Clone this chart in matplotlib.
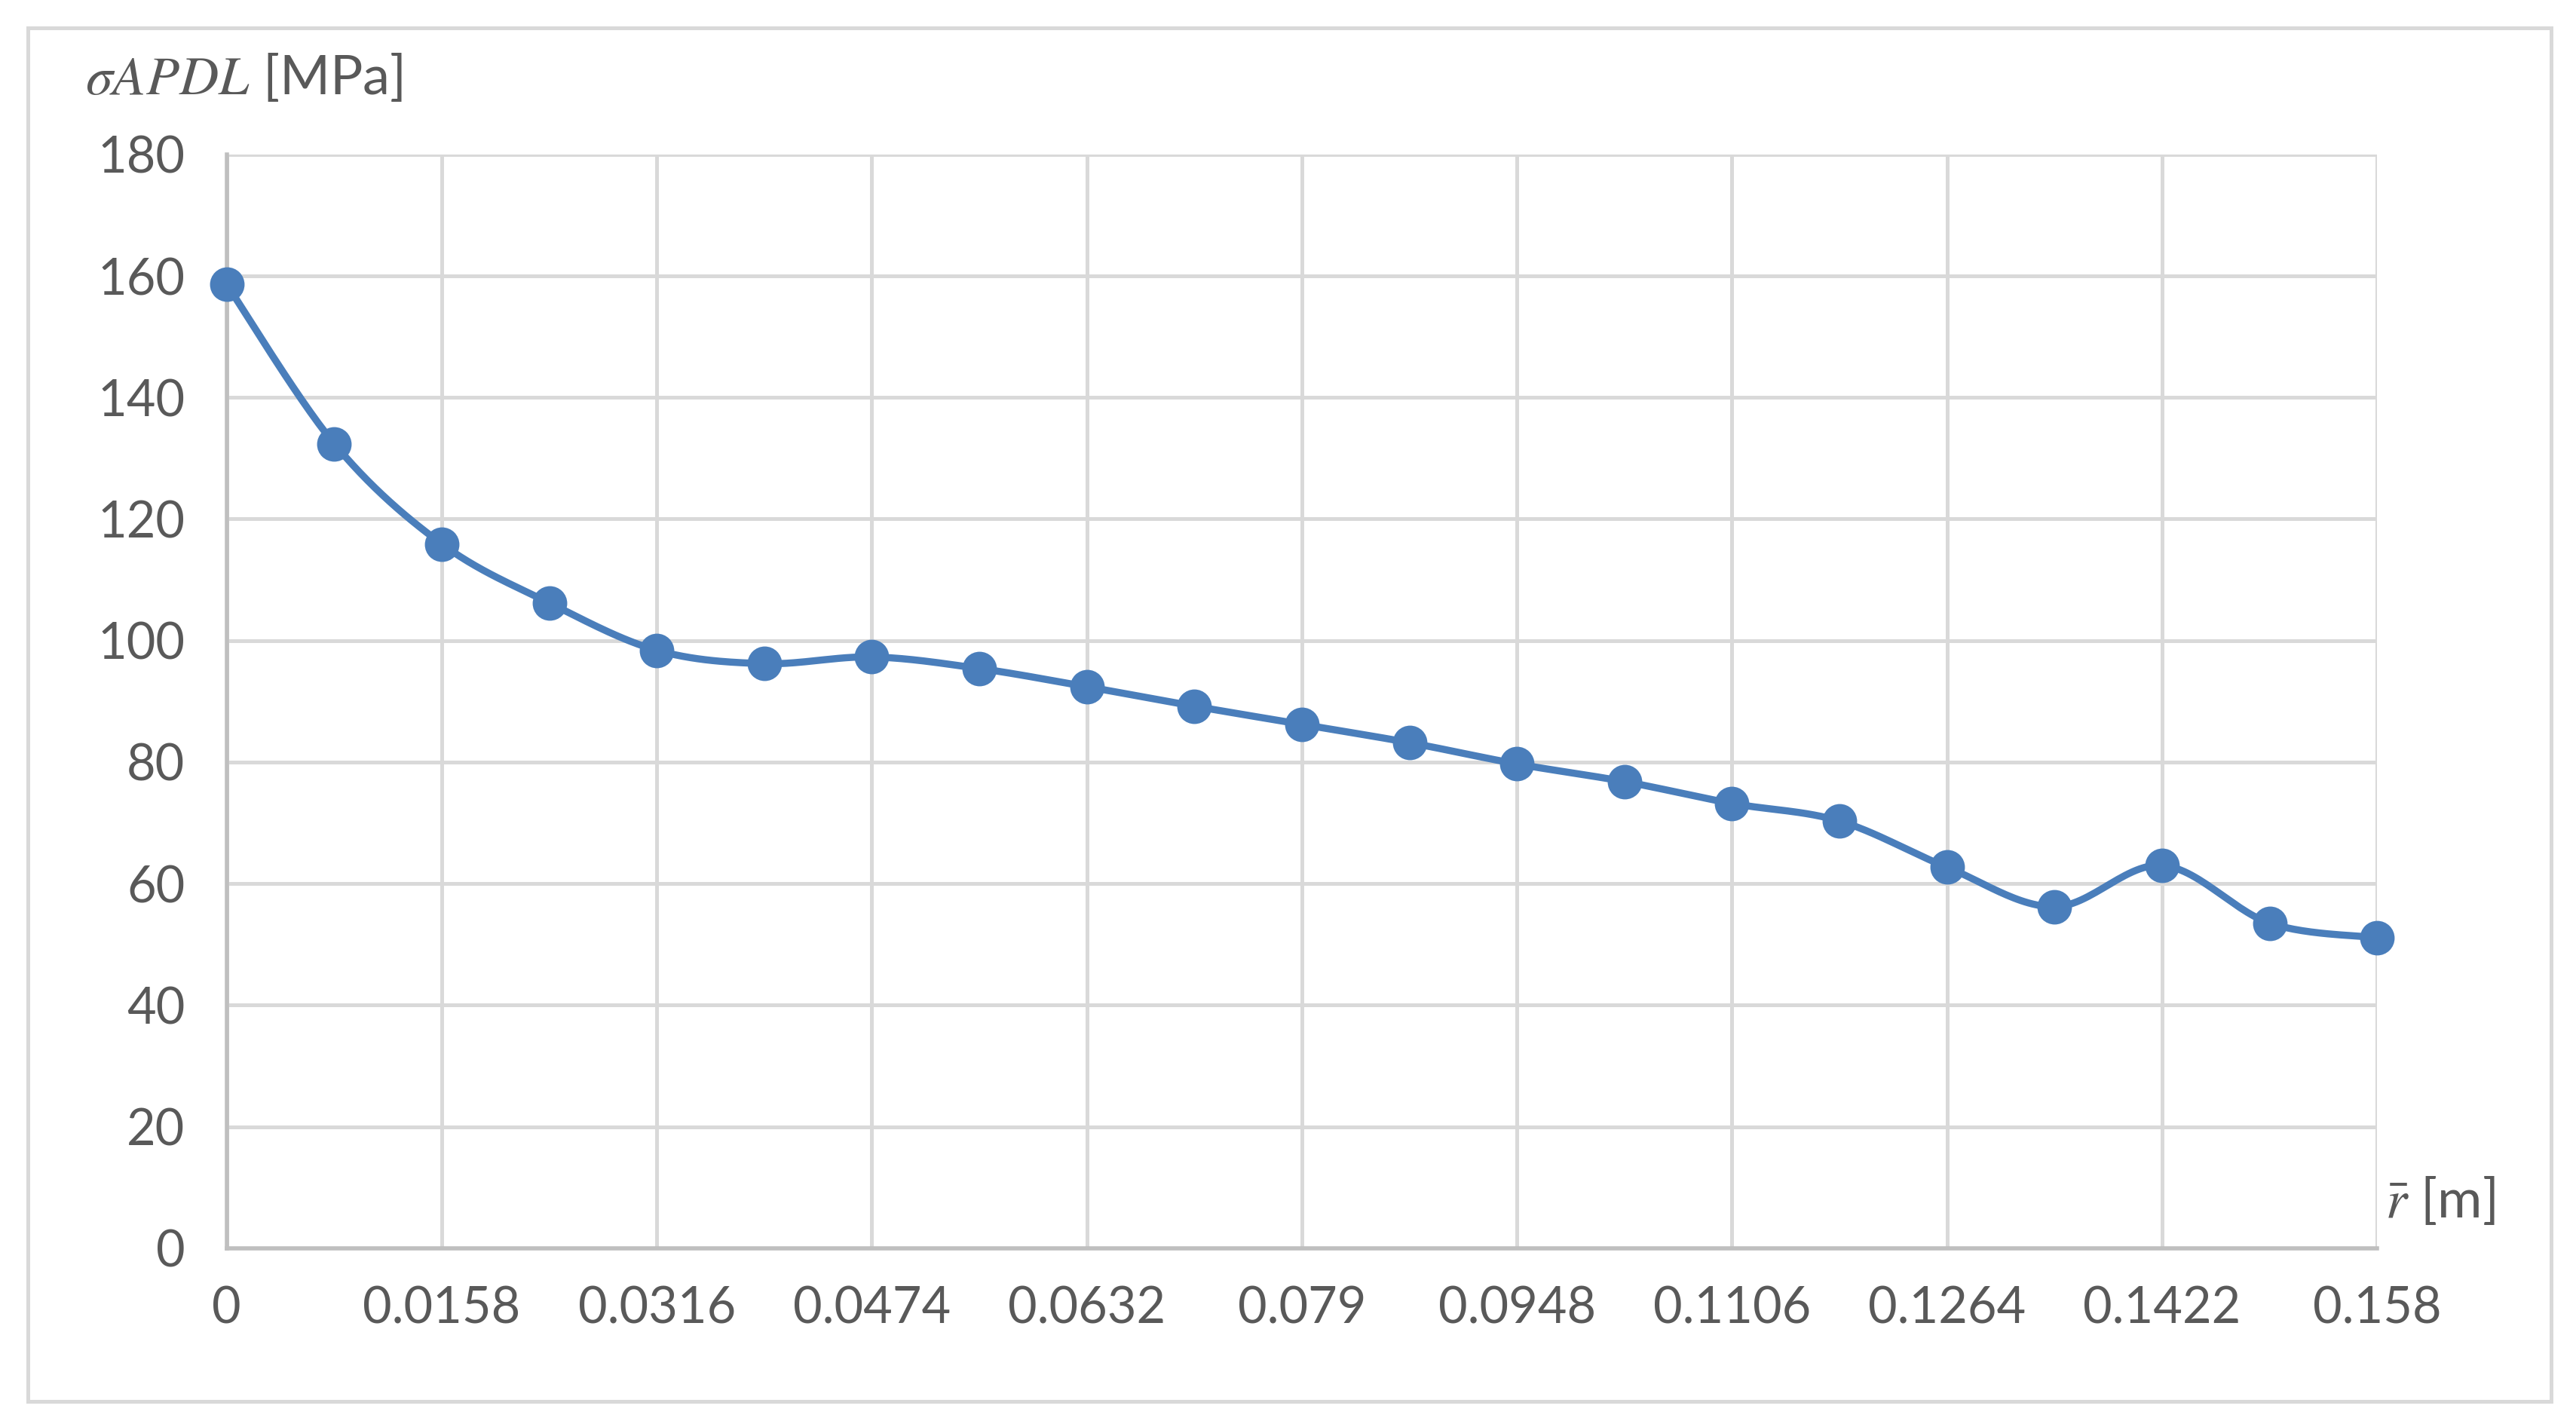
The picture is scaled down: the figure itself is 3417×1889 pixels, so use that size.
import matplotlib
matplotlib.use("Agg")
import matplotlib.pyplot as plt
import numpy as np
from matplotlib.patches import Rectangle

plt.rcParams["font.family"] = ["Lato", "DejaVu Sans"]
plt.rcParams["mathtext.fontset"] = "stix"

# data
r = [0, 0.0079, 0.0158, 0.0237, 0.0316, 0.0395, 0.0474, 0.0553, 0.0632, 0.0711, 0.079,
     0.0869, 0.0948, 0.1027, 0.1106, 0.1185, 0.1264, 0.1343, 0.1422, 0.1501, 0.158]
sigma = [158.6, 132.4, 115.9, 106.2, 98.4, 96.2, 97.3, 95.4, 92.4, 89.2, 86.2,
         83.2, 79.7, 76.8, 73.2, 70.3, 62.7, 56.2, 63.0, 53.5, 51.1]
xtick_vals = [0, 0.0158, 0.0316, 0.0474, 0.0632, 0.079, 0.0948, 0.1106, 0.1264, 0.1422, 0.158]
xtick_labels = ["0", "0.0158", "0.0316", "0.0474", "0.0632", "0.079",
                "0.0948", "0.1106", "0.1264", "0.1422", "0.158"]
ytick_vals = [0, 20, 40, 60, 80, 100, 120, 140, 160, 180]

blue = "#4A7EBB"
grid_c = "#D9D9D9"
txt_c = "#595959"


def smooth(x, y, n=30):
    # excel-like smoothed line (catmull-rom through the points)
    x = np.asarray(x, float)
    y = np.asarray(y, float)
    px = np.concatenate([[x[0]], x, [x[-1]]])
    py = np.concatenate([[y[0]], y, [y[-1]]])
    xs, ys = [], []
    t = np.linspace(0, 1, n)
    for i in range(1, len(px) - 2):
        p0, p1, p2, p3 = px[i - 1], px[i], px[i + 1], px[i + 2]
        q0, q1, q2, q3 = py[i - 1], py[i], py[i + 1], py[i + 2]
        c1x, c1y = p1 + (p2 - p0) / 6, q1 + (q2 - q0) / 6
        c2x, c2y = p2 - (p3 - p1) / 6, q2 - (q3 - q1) / 6
        bx = (1 - t) ** 3 * p1 + 3 * (1 - t) ** 2 * t * c1x + 3 * (1 - t) * t ** 2 * c2x + t ** 3 * p2
        by = (1 - t) ** 3 * q1 + 3 * (1 - t) ** 2 * t * c1y + 3 * (1 - t) * t ** 2 * c2y + t ** 3 * q2
        xs.append(bx)
        ys.append(by)
    return np.concatenate(xs), np.concatenate(ys)


fig = plt.figure(figsize=(17.085, 9.445), dpi=200)
fig.patches.append(Rectangle((0.0108, 0.0161), 0.9796, 0.9643, transform=fig.transFigure,
                             fill=False, edgecolor=grid_c, linewidth=1.8))

ax = fig.add_axes([0.088, 0.1234, 0.8348, 0.7682])
sx, sy = smooth(r, sigma)
ax.plot(sx, sy, color=blue, linewidth=3.4, solid_capstyle="round", zorder=3, clip_on=False)
ax.plot(r, sigma, linestyle="none", marker="o", markersize=15.5, color=blue, zorder=4,
        clip_on=False)

ax.set_xlim(0, 0.158)
ax.set_ylim(0, 180)
ax.set_xticks(xtick_vals)
ax.set_xticklabels(xtick_labels)
ax.set_yticks(ytick_vals)
ax.grid(True, color=grid_c, linewidth=1.8)
ax.set_axisbelow(True)
for s in ["top", "right"]:
    ax.spines[s].set_visible(False)
for s in ["left", "bottom"]:
    ax.spines[s].set_color("#BFBFBF")
    ax.spines[s].set_linewidth(2)
ax.tick_params(axis="both", length=0, labelsize=24, labelcolor=txt_c)
ax.tick_params(axis="y", pad=20)
ax.tick_params(axis="x", pad=18)

fig.text(0.0332, 0.9458, r"$\mathit{\sigma APDL}$ [MPa]", fontsize=26, color=txt_c,
         ha="left", va="center")
fig.text(0.926, 0.1569, r"$\bar{r}$ [m]", fontsize=26, color=txt_c, ha="left", va="center")

fig.savefig("out.png", dpi=200)
